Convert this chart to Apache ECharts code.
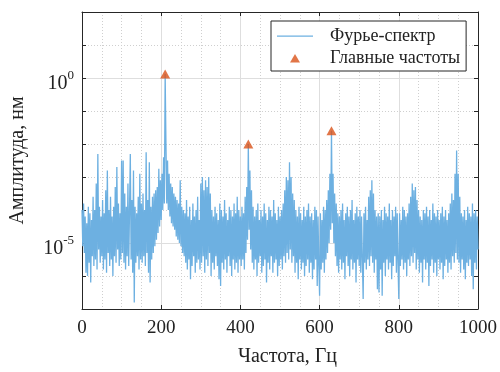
<!DOCTYPE html>
<html>
<head>
<meta charset="utf-8">
<script src="https://cdn.jsdelivr.net/npm/echarts@6/dist/echarts.min.js"></script>
<style>
  html, body { margin: 0; padding: 0; background: #fff; }
  #chart { width: 500px; height: 372px; }
</style>
</head>
<body>
<div id="chart"></div>
<script>
// шаг спектра, Гц
const freqStep = 2;
// log10 амплитуды спектра (нм), отсчёты через freqStep от 0 до 1000 Гц
const ampLog = [
  -4.0,-5.1,-3.8,-5.3,-4.2,-5.9,-4.4,-6.0,-3.9,-5.6,-4.1,-6.2,-4.3,-5.4,-3.6,-5.7,-4.0,-5.5,-3.2,-5.8,-2.3,-5.2,-3.9,-5.6,-4.2,
  -5.4,-3.7,-5.8,-4.1,-5.5,-3.4,-5.9,-2.8,-5.3,-4.0,-5.7,-3.6,-5.5,-4.2,-6.0,-3.9,-5.4,-3.3,-5.6,-2.7,-5.2,-3.8,-5.7,-4.1,-5.5,
  -2.5,-5.3,-2.5,-5.6,-3.5,-5.8,-3.9,-5.4,-3.2,-5.7,-4.0,-2.3,-5.5,-3.7,-5.9,-2.8,-6.8,-3.9,-5.6,-4.1,-5.4,-3.6,-5.8,-2.9,-5.5,
  -3.8,-5.6,-3.5,-5.4,-4.0,-5.7,-2.25,-5.3,-3.7,-5.9,-2.55,-6.2,-3.9,-5.5,-3.6,-5.3,-3.5,-5.1,-3.4,-4.9,-3.3,-4.7,-2.75,-4.5,-3.1,
  -4.3,-2.9,-4.0,-2.4,-3.8,0.12,-2.0,-3.8,-2.5,-4.0,-2.9,-4.2,-3.2,-4.4,-3.3,-4.5,-3.5,-4.6,-3.6,-4.8,-3.7,-4.9,-3.8,-5.0,-3.1,
  -5.1,-3.9,-5.3,-4.0,-5.4,-4.1,-5.6,-3.7,-5.8,-4.2,-5.5,-3.9,-6.1,-4.3,-5.7,-3.8,-5.4,-4.2,-5.9,-4.0,-5.6,-3.6,-5.5,-4.3,-5.8,
  -3.2,-5.6,-3.0,-5.4,-3.4,-5.9,-3.1,-5.5,-3.3,-5.7,-3.0,-5.3,-3.5,-6.0,-4.0,-5.6,-4.2,-5.8,-3.9,-5.4,-4.1,-5.7,-4.3,-6.1,-3.8,
  -6.3,-4.0,-5.6,-4.2,-5.8,-3.7,-5.5,-4.1,-5.9,-4.3,-5.4,-3.9,-5.7,-4.0,-6.0,-4.2,-5.5,-3.8,-5.8,-4.1,-5.6,-3.6,-5.9,-4.0,-5.5,
  -4.2,-5.7,-3.9,-5.5,-4.1,-5.8,-3.6,-5.3,-3.3,-4.9,-2.0,-4.6,-2.8,-5.2,-3.4,-5.6,-3.9,-5.8,-4.2,-5.5,-4.0,-6.0,-3.8,-5.6,-4.3,
  -5.4,-4.0,-5.9,-4.2,-5.7,-3.8,-5.5,-4.1,-6.2,-4.3,-5.6,-3.9,-5.8,-4.0,-5.4,-4.2,-5.9,-3.7,-5.6,-4.1,-5.5,-4.3,-6.0,-3.9,-5.7,
  -4.2,-5.5,-4.0,-5.8,-3.8,-5.4,-3.4,-5.6,-3.0,-5.3,-3.1,-5.5,-2.55,-5.2,-3.0,-5.6,-3.5,-5.4,-3.7,-5.9,-4.0,-5.6,-4.2,-6.1,-3.9,
  -5.5,-4.1,-5.8,-4.3,-5.6,-3.9,-6.0,-4.2,-5.7,-4.0,-5.5,-3.8,-5.9,-4.2,-5.6,-4.1,-6.1,-4.3,-5.8,-3.9,-5.5,-4.0,-6.3,-4.2,-5.7,
  -6.6,-4.1,-5.8,-4.3,-5.6,-3.9,-5.9,-4.0,-5.5,-3.7,-5.3,-3.4,-5.0,-2.9,-4.6,-1.6,-4.4,-2.9,-5.0,-3.5,-5.4,-3.8,-5.7,-4.1,-5.9,
  -4.2,-5.5,-4.0,-5.8,-3.8,-5.6,-4.3,-6.1,-4.1,-5.4,-3.9,-5.7,-4.2,-6.0,-4.0,-5.5,-3.7,-5.8,-4.3,-5.6,-4.1,-6.2,-3.9,-5.5,-4.2,
  -5.7,-4.0,-5.9,-4.2,-5.5,-6.7,-4.1,-5.6,-3.9,-5.8,-4.3,-5.5,-3.6,-5.7,-3.4,-5.4,-3.1,-5.6,-3.5,-5.9,-4.0,-5.5,-4.2,-6.4,-4.1,
  -6.5,-4.2,-5.8,-4.0,-6.6,-4.3,-5.6,-3.9,-6.0,-4.1,-5.5,-4.2,-5.8,-3.8,-5.6,-4.3,-6.1,-4.0,-5.7,-4.2,-5.4,-3.9,-5.9,-4.1,-5.6,
  -6.7,-4.1,-5.7,-4.3,-5.5,-3.9,-5.8,-4.0,-5.6,-4.2,-6.0,-4.1,-5.5,-3.8,-5.7,-3.6,-5.4,-3.2,-5.6,-3.4,-5.3,-3.3,-5.8,-3.7,-5.5,
  -4.0,-5.9,-4.2,-5.6,-4.3,-6.2,-4.0,-5.5,-4.1,-5.8,-3.9,-5.6,-4.2,-6.3,-4.0,-5.7,-4.3,-5.5,-3.8,-5.9,-4.1,-5.6,-4.2,-6.0,-4.0,
  -5.5,-4.3,-5.8,-4.1,-5.6,-3.9,-6.1,-4.2,-5.7,-4.0,-5.5,-4.3,-5.9,-4.1,-5.6,-3.8,-5.8,-3.5,-5.4,-3.7,-5.6,-2.9,-5.3,-2.2,-5.5,
  -2.9,-5.6,-3.6,-5.9,-4.1,-5.5,-4.2,-5.8,-4.0,-6.1,-4.3,-5.6,-3.9,-5.7,-4.1,-5.5,-4.2,-6.0,-3.8,-6.4,-4.1,-5.6,-4.0,-5.8,-4.2,
  -5.2
];
// главные частоты
const peakFreq = [210, 420, 630];
const peakAmpLog = [0.12, -2.0, -1.6];
// подписанные декады по оси Y
const yLabelExp = [-5, 0];

const FONT = '"Liberation Serif", "DejaVu Serif", serif';
const TXT = '#222';
const AX = '#262626';
const BLUE = '#6DB0E1';
const ORANGE = '#D95319';

const spectrum = ampLog.map((v, i) => [i * freqStep, v]);
const peaks = peakFreq.map((f, i) => [f, peakAmpLog[i]]);

const chart = echarts.init(document.getElementById('chart'));
chart.setOption({
  animation: false,
  backgroundColor: '#fff',
  grid: { left: 78, right: 22, top: 12, bottom: 56 },
  legend: {
    orient: 'vertical',
    left: 271,
    top: 21,
    padding: [5, 6, 3, 6],
    itemGap: 2,
    itemWidth: 36,
    itemHeight: 11,
    borderColor: AX,
    borderWidth: 1,
    borderRadius: 0,
    backgroundColor: '#fff',
    textStyle: { fontFamily: FONT, fontSize: 18, color: TXT, padding: [0, 0, 0, 12], lineHeight: 20 },
    data: [
      { name: 'Фурье-спектр', icon: 'path://M0,0M36,11M0,5H36V6.2H0Z', itemStyle: { color: BLUE } },
      { name: 'Главные частоты', icon: 'path://M0,0M36,11M13,10L18,1.5L23,10Z', itemStyle: { color: ORANGE } }
    ]
  },
  xAxis: [
    {
      type: 'value', min: 0, max: 1000, interval: 200,
      name: 'Частота, Гц', nameLocation: 'middle', nameGap: 38,
      nameTextStyle: { fontFamily: FONT, fontSize: 20, color: TXT, padding: [0, 0, 0, 15] },
      axisLine: { onZero: false, lineStyle: { color: AX, width: 1 } },
      axisTick: { inside: true, length: 4, lineStyle: { color: AX } },
      axisLabel: { fontFamily: FONT, fontSize: 19, color: TXT, margin: 10, formatter: v => String(v) },
      splitLine: { show: true, lineStyle: { color: '#dedede', width: 1 } },
      minorTick: { show: false, splitNumber: 4 },
      minorSplitLine: { show: true, lineStyle: { color: '#cfcfcf', type: [1, 2], width: 1 } }
    },
    {
      type: 'value', min: 0, max: 1000, interval: 200, position: 'top',
      axisLine: { show: true, onZero: false, lineStyle: { color: AX, width: 1 } },
      axisTick: { show: true, inside: true, length: 4, lineStyle: { color: AX } },
      axisLabel: { show: false },
      splitLine: { show: false }
    }
  ],
  yAxis: [
    {
      type: 'value', min: -7, max: 2, interval: 1, position: 'left',
      name: 'Амплитуда, нм', nameLocation: 'middle', nameGap: 54,
      nameTextStyle: { fontFamily: FONT, fontSize: 20, color: TXT },
      axisLine: { show: true, onZero: false, lineStyle: { color: AX, width: 1 } },
      axisTick: { show: true, inside: true, length: 4, lineStyle: { color: AX } },
      axisLabel: {
        margin: 8,
        formatter: v => yLabelExp.indexOf(v) >= 0 ? '{b|10}{s|' + v + '}' : '',
        rich: {
          b: { fontFamily: FONT, fontSize: 20, color: TXT, padding: [12, 0, 0, 0] },
          s: { fontFamily: FONT, fontSize: 13, color: TXT, padding: [0, 0, 4, 0] }
        }
      },
      splitLine: { show: true, lineStyle: { color: '#cfcfcf', type: [1, 2], width: 1 } }
    },
    {
      type: 'value', min: -7, max: 2, interval: 1, position: 'right',
      axisLine: { show: true, onZero: false, lineStyle: { color: AX, width: 1 } },
      axisTick: { show: true, inside: true, length: 4, lineStyle: { color: AX } },
      axisLabel: { show: false },
      // сплошные линии только на подписанных декадах (-5 и 0)
      splitLine: { show: true, lineStyle: { width: 1, color: ['rgba(0,0,0,0)', 'rgba(0,0,0,0)', '#dedede', 'rgba(0,0,0,0)', 'rgba(0,0,0,0)'] } }
    }
  ],
  series: [
    {
      name: 'Фурье-спектр',
      type: 'line',
      data: spectrum,
      symbol: 'none',
      sampling: null,
      color: BLUE,
      lineStyle: { width: 1.3, color: BLUE },
      z: 2
    },
    {
      name: 'Главные частоты',
      type: 'scatter',
      data: peaks,
      symbol: 'triangle',
      symbolSize: [10, 9],
      itemStyle: { color: ORANGE },
      z: 3
    }
  ]
});
</script>
</body>
</html>
